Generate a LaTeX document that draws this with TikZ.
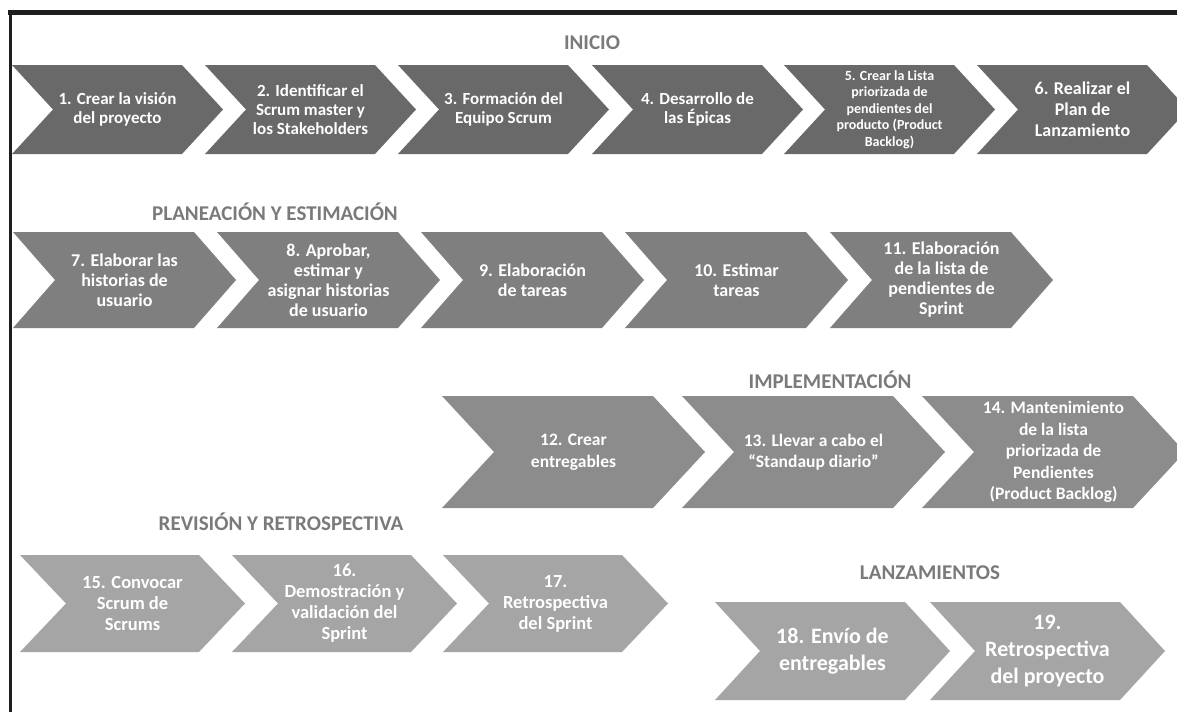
\documentclass[tikz,border=0pt]{standalone}
\usepackage{fontspec}
\setmainfont{Carlito}
\definecolor{rowone}{HTML}{696969}
\definecolor{rowtwo}{HTML}{7F7F7F}
\definecolor{rowthree}{HTML}{8C8C8C}
\definecolor{rowfour}{HTML}{A5A5A5}
\definecolor{phasegray}{HTML}{7A7A7A}
\definecolor{frameline}{HTML}{1E1E1E}
% chevron: name, left, top, bottom, width (to tip), point depth, fill, font style, text
\newcommand\procstep[9]{%
  \fill[#7] (#2,#3) -- ({#2+#5-#6},#3) -- ({#2+#5},{(#3+#4)/2})
    -- ({#2+#5-#6},#4) -- (#2,#4) -- ({#2+#6},{(#3+#4)/2}) -- cycle;
  \node[steptext,#8] (#1) at ({#2+#5/2},{(#3+#4)/2}) {#9};%
}
\begin{document}
\begin{tikzpicture}[x=1pt,y=-1pt,
  steptext/.style={text=white, align=center, inner sep=0pt},
  fa/.style={font=\bfseries\fontsize{17}{19}\selectfont},
  fasmall/.style={font=\bfseries\fontsize{14}{16.6}\selectfont},
  faplan/.style={font=\bfseries\fontsize{18}{21}\selectfont},
  fb/.style={font=\bfseries\fontsize{18}{20}\selectfont},
  fc/.style={font=\bfseries\fontsize{17.5}{21.5}\selectfont},
  fd/.style={font=\bfseries\fontsize{18.5}{21}\selectfont},
  fe/.style={font=\bfseries\fontsize{22}{27}\selectfont},
  phase/.style={text=phasegray, font=\bfseries\fontsize{21}{25}\selectfont, inner sep=0pt, anchor=base}]
\useasboundingbox (0,0) rectangle (1177,712);
\fill[white] (0,0) rectangle (1177,712);

% frame edges
\draw[frameline, line width=4.5pt] (8,12.5) -- (1177,12.5);
\draw[frameline, line width=3pt] (10,10) -- (10,712);

% INICIO
\node[phase] (inicio) at (592,49) {INICIO};
\procstep{s1}{12}{65}{154}{211}{41}{rowone}{fa}{1. Crear la visión\\del proyecto}
\procstep{s2}{205}{65}{154}{211}{41}{rowone}{fa}{2. Identificar el\\Scrum master y\\los Stakeholders}
\procstep{s3}{398}{65}{154}{211}{41}{rowone}{fa}{3. Formación del\\Equipo Scrum}
\procstep{s4}{592}{65}{154}{211}{41}{rowone}{fa}{4. Desarrollo de\\las Épicas}
\procstep{s5}{784}{65}{154}{211}{41}{rowone}{fasmall}{5. Crear la Lista\\priorizada de\\pendientes del\\producto (Product\\Backlog)}
\procstep{s6}{977}{65}{154}{211}{41}{rowone}{faplan}{6. Realizar el\\Plan de\\Lanzamiento}

% PLANEACIÓN Y ESTIMACIÓN
\node[phase] (planeacion) at (275,220) {PLANEACIÓN Y ESTIMACIÓN};
\procstep{s7}{13}{232}{328}{223}{42}{rowtwo}{fb}{7. Elaborar las\\historias de\\usuario}
\procstep{s8}{217}{232}{328}{223}{42}{rowtwo}{fb}{8. Aprobar,\\estimar y\\asignar historias\\de usuario}
\procstep{s9}{421}{232}{328}{223}{42}{rowtwo}{fb}{9. Elaboración\\de tareas}
\procstep{s10}{625}{232}{328}{223}{42}{rowtwo}{fb}{10. Estimar\\tareas}
\procstep{s11}{830}{232}{328}{223}{42}{rowtwo}{fb}{11. Elaboración\\de la lista de\\pendientes de\\Sprint}

% IMPLEMENTACIÓN
\node[phase] (implementacion) at (830,388) {IMPLEMENTACIÓN};
\procstep{s12}{442}{396}{508}{263}{52}{rowthree}{fc}{12. Crear\\entregables}
\procstep{s13}{682}{396}{508}{263}{52}{rowthree}{fc}{13. Llevar a cabo el\\“Standaup diario”}
\procstep{s14}{922}{396}{508}{263}{52}{rowthree}{fc}{14. Mantenimiento\\de la lista\\priorizada de\\Pendientes\\(Product Backlog)}

% REVISIÓN Y RETROSPECTIVA
\node[phase] (revision) at (281,530) {REVISIÓN Y RETROSPECTIVA};
\procstep{s15}{20}{555}{652}{225}{46}{rowfour}{fd}{15. Convocar\\Scrum de\\Scrums}
\procstep{s16}{232}{555}{652}{225}{46}{rowfour}{fd}{16.\\Demostración y\\validación del\\Sprint}
\procstep{s17}{443}{555}{652}{225}{46}{rowfour}{fd}{17.\\Retrospectiva\\del Sprint}

% LANZAMIENTOS
\node[phase] (lanzamientos) at (930,579) {LANZAMIENTOS};
\procstep{s18}{715}{602}{700}{235}{45}{rowfour}{fe}{18. Envío de\\entregables}
\procstep{s19}{930}{602}{700}{235}{45}{rowfour}{fe}{19.\\Retrospectiva\\del proyecto}
\end{tikzpicture}
\end{document}
